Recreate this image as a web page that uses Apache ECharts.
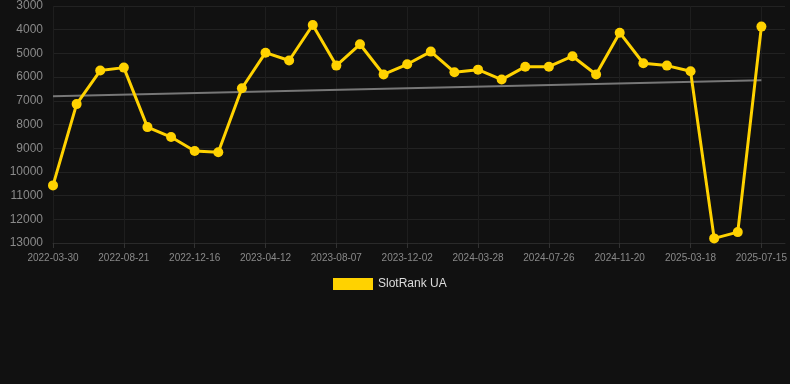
<!DOCTYPE html>
<html>
<head>
<meta charset="utf-8">
<style>
html,body{margin:0;padding:0;background:#111111;}
#chart{width:790px;height:384px;}
</style>
<script src="https://cdn.jsdelivr.net/npm/echarts@6/dist/echarts.min.js"></script>
</head>
<body>
<div id="chart"></div>
<script>
const categories = [
  '2022-03-30','2022-05-17','2022-07-04','2022-08-21','2022-09-29','2022-11-07',
  '2022-12-16','2023-01-24','2023-03-04','2023-04-12','2023-05-21','2023-06-29',
  '2023-08-07','2023-09-15','2023-10-24','2023-12-02','2024-01-10','2024-02-18',
  '2024-03-28','2024-05-07','2024-06-16','2024-07-26','2024-09-03','2024-10-12',
  '2024-11-20','2024-12-29','2025-02-07','2025-03-18','2025-04-26','2025-06-05',
  '2025-07-15',''
];
const rankValues = [
  10570, 7140, 5725, 5600, 8110, 8530, 9120, 9170, 6470, 4970, 5300, 3800,
  5515, 4615, 5890, 5460, 4925, 5795, 5685, 6105, 5560, 5560, 5120, 5890,
  4125, 5415, 5515, 5755, 12805, 12540, 3870
];
const yTicks = [3000, 13000, 1000];
const seriesName = 'SlotRank UA';

// linear regression trend over the data
const n = rankValues.length;
let sx = 0, sy = 0, sxy = 0, sxx = 0;
rankValues.forEach((v, i) => { sx += i; sy += v; sxy += i * v; sxx += i * i; });
const slope = (n * sxy - sx * sy) / (n * sxx - sx * sx);
const intercept = (sy - slope * sx) / n;
const trend = rankValues.map((v, i) => (i === 0 || i === n - 1) ? intercept + slope * i : null);

const chart = echarts.init(document.getElementById('chart'));
chart.setOption({
  backgroundColor: '#111111',
  animation: false,
  grid: { left: 53, right: 5, top: 6, bottom: 141 },
  legend: {
    data: [{ name: seriesName, icon: 'rect' }],
    top: 273,
    left: 328,
    itemWidth: 40,
    itemHeight: 12,
    itemGap: 6,
    textStyle: { color: '#dddddd', fontSize: 12, fontFamily: 'Arial, Liberation Sans, sans-serif' }
  },
  xAxis: {
    type: 'category',
    data: categories,
    boundaryGap: false,
    axisLine: { show: true, lineStyle: { color: '#2a2a2a' } },
    axisTick: { show: true, interval: 2, lineStyle: { color: '#333333' } },
    axisLabel: { interval: 2, color: '#8a8a8a', fontSize: 10, margin: 10, fontFamily: 'Arial, Liberation Sans, sans-serif' },
    splitLine: { show: true, interval: 2, lineStyle: { color: '#1e1e1e' } }
  },
  yAxis: {
    type: 'value',
    inverse: true,
    min: yTicks[0],
    max: yTicks[1],
    interval: yTicks[2],
    axisLine: { show: false },
    axisTick: { show: false },
    axisLabel: { color: '#8a8a8a', fontSize: 12, margin: 10, formatter: v => String(v), fontFamily: 'Arial, Liberation Sans, sans-serif' },
    splitLine: { show: true, lineStyle: { color: '#222222' } }
  },
  series: [
    {
      name: 'trend',
      type: 'line',
      data: trend,
      connectNulls: true,
      showSymbol: false,
      symbol: 'none',
      lineStyle: { color: '#777777', width: 2 },
      silent: true,
      z: 1
    },
    {
      name: seriesName,
      type: 'line',
      data: rankValues,
      symbol: 'circle',
      symbolSize: 10,
      itemStyle: { color: '#FFD200' },
      lineStyle: { color: '#FFD200', width: 3 },
      z: 3
    }
  ]
});
</script>
</body>
</html>
